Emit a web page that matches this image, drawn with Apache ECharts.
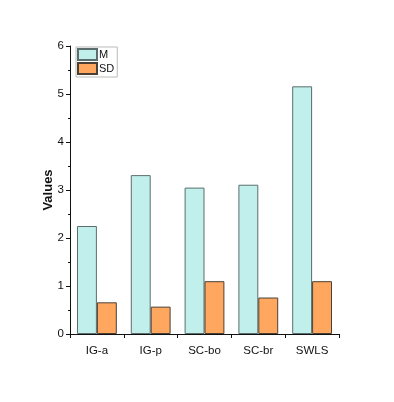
<!DOCTYPE html>
<html><head><meta charset="utf-8">
<script src="https://cdn.jsdelivr.net/npm/echarts@6/dist/echarts.min.js"></script>
<style>html,body{margin:0;padding:0;background:#fff}#c{width:394px;height:402px}</style>
</head><body><div id="c"></div>
<script>
var categories = ['IG-a', 'IG-p', 'SC-bo', 'SC-br', 'SWLS'];
var meanValues = [2.25, 3.31, 3.05, 3.11, 5.16];
var sdValues = [0.66, 0.57, 1.10, 0.76, 1.10];
var yTicks = [0, 1, 2, 3, 4, 5, 6];

var chart = echarts.init(document.getElementById('c'));
var font = '"Liberation Sans", Arial, sans-serif';
chart.setOption({
  animation: false,
  backgroundColor: '#fff',
  grid: { left: 70, right: 55, top: 46, bottom: 68, containLabel: false },
  legend: {
    left: 76, top: 47, orient: 'vertical',
    itemWidth: 19, itemHeight: 11, itemGap: 1,
    padding: [1, 3, 2, 1],
    borderColor: '#bbb', borderWidth: 1,
    textStyle: { fontFamily: font, fontSize: 11, color: '#111', padding: [0, 0, 0, -3] },
    data: [{ name: 'M', icon: 'rect' }, { name: 'SD', icon: 'rect' }]
  },
  xAxis: {
    type: 'category', data: categories,
    axisLine: { lineStyle: { color: '#111', width: 1 } },
    axisTick: { show: true, inside: false, length: 4, alignWithLabel: false, lineStyle: { color: '#111' } },
    axisLabel: { fontFamily: font, fontSize: 11.5, color: '#111', margin: 11 }
  },
  yAxis: {
    type: 'value', min: 0, max: 6, interval: 1,
    name: 'Values', nameLocation: 'middle', nameGap: 15, nameMoveOverlap: false,
    nameTextStyle: { fontFamily: font, fontSize: 13, fontWeight: 'bold', color: '#111' },
    axisLine: { show: true, lineStyle: { color: '#111', width: 1 } },
    axisTick: { show: true, inside: false, length: 4, lineStyle: { color: '#111' } },
    minorTick: { show: true, splitNumber: 2, length: 2, lineStyle: { color: '#111' } },
    axisLabel: { fontFamily: font, fontSize: 11.5, color: '#111', margin: 6,
      formatter: function (v) { return yTicks.indexOf(v) >= 0 ? String(v) : ''; } },
    splitLine: { show: false }
  },
  series: [
    { name: 'M', type: 'bar', data: meanValues, barGap: '0%', barCategoryGap: '26%',
      itemStyle: { color: '#C0EFEC', borderColor: '#5b6e6d', borderWidth: 1 } },
    { name: 'SD', type: 'bar', data: sdValues, barGap: '0%', barCategoryGap: '26%',
      itemStyle: { color: '#FFA75E', borderColor: '#4a4036', borderWidth: 1 } }
  ]
});
</script></body></html>
